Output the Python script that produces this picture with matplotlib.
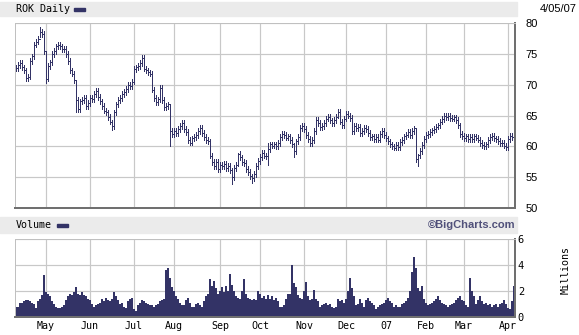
import numpy as np
import matplotlib.pyplot as plt
from matplotlib.patches import Rectangle

# daily closing prices, ROK, one per trading day (Apr 2006 - Apr 5 2007)
closes = [
    72.7, 73.2, 73.5, 72.8, 72.3, 71.1, 71.3, 73.8, 74.6, 76.5,
    77.0, 77.4, 78.5, 78.2, 75.5, 71.0, 73.0, 73.6, 75.0, 75.5,
    76.2, 76.5, 76.2, 75.8, 75.8, 75.0, 73.8, 72.3, 71.8, 70.8,
    67.5, 66.0, 67.3, 67.5, 67.8, 66.5, 67.0, 67.9, 67.6, 68.5,
    69.0, 68.0, 67.3, 66.5, 65.8, 65.5, 64.8, 64.0, 63.3, 65.5,
    66.8, 67.5, 67.8, 68.5, 68.8, 69.3, 70.0, 69.8, 70.5, 72.5,
    72.8, 73.0, 73.5, 74.3, 72.6, 72.3, 72.0, 71.8, 69.2, 67.8,
    67.2, 67.6, 69.5, 67.5, 66.3, 66.5, 66.8, 62.5, 62.0, 62.5,
    62.2, 62.8, 63.3, 63.8, 62.8, 62.3, 61.0, 60.6, 61.3, 61.5,
    61.8, 62.5, 63.0, 62.2, 61.5, 61.0, 60.8, 58.5, 57.5, 56.8,
    57.5, 56.3, 57.0, 56.8, 57.2, 56.5, 56.8, 56.2, 55.0, 56.5,
    57.0, 58.8, 58.2, 57.5, 57.3, 56.3, 55.8, 55.2, 54.8, 55.5,
    56.8, 57.6, 58.3, 59.0, 58.5, 58.4, 59.5, 60.3, 60.1, 60.3,
    60.0, 60.5, 61.5, 62.0, 61.8, 61.4, 61.6, 61.0, 60.4, 59.2,
    60.8, 61.5, 63.0, 63.3, 62.8, 61.8, 61.2, 60.5, 61.0, 62.5,
    64.3, 63.8, 63.1, 63.3, 63.8, 64.5, 64.8, 64.2, 63.8, 64.3,
    64.8, 65.6, 64.0, 63.5, 64.5, 65.3, 65.0, 64.6, 62.5, 63.3,
    63.0, 63.2, 62.2, 62.5, 63.0, 62.8, 62.2, 61.5, 61.6, 61.2,
    61.5, 61.1, 62.0, 62.5, 61.8, 61.3, 60.8, 60.3, 60.0, 59.8,
    60.2, 59.9, 60.7, 61.0, 61.6, 61.9, 62.3, 61.8, 62.5, 62.9,
    58.0, 58.6, 59.2, 60.2, 61.2, 61.8, 62.0, 62.3, 62.6, 62.8,
    63.2, 63.4, 64.0, 64.4, 64.9, 64.7, 64.9, 64.6, 64.5, 64.7,
    64.3, 63.4, 62.0, 61.7, 61.3, 61.6, 61.2, 61.5, 61.2, 61.6,
    61.4, 61.1, 60.5, 60.2, 60.0, 60.3, 61.0, 61.5, 61.7, 61.3,
    61.2, 60.9, 60.5, 60.6, 60.1, 59.9, 61.2, 61.7, 61.5, 58.0,
]

# (day index, high, low) for the bars with long tails
wide_bars = [
    (12, 79.3, 77.8), (15, 75.5, 70.3), (30, 70.8, 65.5), (48, 64.2, 62.7),
    (77, 66.8, 60.0), (108, 56.5, 53.9), (111, 59.0, 56.8), (118, 55.5, 54.0),
    (126, 60.5, 57.0), (139, 60.5, 58.3), (161, 66.1, 64.6), (200, 62.9, 57.5),
    (201, 58.8, 56.8), (249, 61.5, 57.7),
]

# daily volume, millions of shares
volume = [
    0.8, 0.8, 1.1, 1.1, 1.2, 1.3, 1.3, 1.2, 1.1, 1.0,
    0.7, 1.2, 1.4, 1.7, 3.2, 1.9, 1.8, 1.6, 1.2, 1.0,
    0.8, 0.7, 0.7, 0.8, 0.9, 1.3, 1.6, 1.8, 1.7, 1.9,
    2.3, 1.8, 1.7, 1.9, 1.7, 1.6, 1.4, 1.3, 1.0, 0.8,
    0.9, 1.0, 1.1, 1.4, 1.2, 1.5, 1.3, 1.2, 1.4, 1.9,
    1.6, 1.3, 1.0, 1.1, 0.8, 0.7, 1.2, 1.4, 1.5, 0.6,
    0.5, 0.9, 1.1, 1.3, 1.2, 1.1, 1.0, 0.9, 0.9, 0.8,
    0.9, 1.0, 1.2, 1.3, 1.4, 3.6, 3.8, 3.0, 2.3, 2.0,
    1.6, 1.4, 1.1, 0.9, 0.9, 1.3, 1.5, 1.1, 0.8, 0.8,
    1.0, 1.1, 0.9, 0.8, 1.2, 1.6, 1.8, 2.9, 2.4, 2.8,
    2.2, 1.8, 2.0, 2.3, 1.9, 2.4, 2.0, 3.3, 2.5, 2.0,
    1.6, 1.5, 1.4, 2.0, 2.9, 1.8, 1.5, 1.4, 1.3, 1.4,
    1.3, 2.0, 1.8, 1.5, 1.6, 1.4, 1.7, 1.4, 1.6, 1.3,
    1.5, 1.2, 0.8, 0.8, 0.9, 1.4, 1.8, 1.8, 4.0, 2.6,
    2.3, 1.7, 1.5, 1.4, 2.0, 2.7, 1.6, 1.3, 1.4, 2.1,
    1.4, 1.2, 0.8, 0.9, 1.0, 1.1, 0.9, 1.0, 0.8, 0.7,
    0.8, 1.4, 1.2, 1.3, 1.1, 1.4, 2.0, 3.0, 2.2, 1.6,
    0.9, 1.0, 1.4, 1.1, 0.8, 1.3, 1.5, 1.2, 1.1, 0.9,
    0.6, 0.8, 0.9, 1.0, 1.1, 1.3, 1.5, 1.2, 1.1, 0.8,
    0.9, 0.8, 0.8, 1.0, 1.1, 1.2, 1.5, 2.0, 3.5, 4.6,
    3.8, 2.2, 2.0, 2.4, 1.4, 1.1, 0.9, 1.0, 1.1, 1.2,
    1.4, 1.6, 1.3, 1.1, 1.0, 0.9, 0.8, 0.9, 1.0, 1.1,
    1.3, 1.5, 1.6, 1.3, 1.2, 0.9, 0.8, 3.0, 2.0, 1.6,
    1.0, 1.3, 1.6, 1.2, 1.0, 1.1, 0.9, 1.0, 0.8, 0.9,
    1.0, 0.8, 1.0, 1.1, 1.3, 1.0, 0.7, 0.6, 1.2, 2.4,
]

month_pos = [15, 37, 59, 79, 102, 122, 144, 165, 185, 205, 224, 246]
month_labels = ["May", "Jun", "Jul", "Aug", "Sep", "Oct", "Nov", "Dec", "07", "Feb", "Mar", "Apr"]
price_ticks = [50, 55, 60, 65, 70, 75, 80]
volume_ticks = [0, 2, 4, 6]

NAVY = "#333366"
GRID = "#c8c8c8"
BAND = "#ebebeb"
W, H = 579, 335
PX = 0.72  # one pixel in points at dpi 100


def box(l, t, r, b):
    return [l / W, 1 - b / H, (r - l) / W, (b - t) / H]


def frame(ax):
    for side in ["left", "top"]:
        ax.spines[side].set_color("#c0c0c0")
        ax.spines[side].set_linewidth(PX)
    for side in ["right", "bottom"]:
        ax.spines[side].set_color("#707070")
        ax.spines[side].set_linewidth(2 * PX)
    ax.grid(True, color=GRID, linewidth=1.2 * PX)
    ax.set_axisbelow(True)
    ax.tick_params(length=0)


c = np.array(closes)
idx = np.arange(len(c))
o = np.r_[c[0], c[:-1]]
hi = np.maximum(o, c) + 0.45
lo = np.minimum(o, c) - 0.45
for i, h, l in wide_bars:
    hi[i], lo[i] = h, l

fig = plt.figure(figsize=(W / 100, H / 100), dpi=100)

# header strips
for t, b in [(2, 16), (217, 233)]:
    fig.patches.append(Rectangle((0, 1 - b / H), 517 / W, (b - t) / H,
                                 transform=fig.transFigure, color=BAND, zorder=0))
mono = dict(family="DejaVu Sans Mono", size=7.2, color="black")
fig.text(16 / W, 1 - 9.5 / H, "ROK Daily", va="center", **mono)
fig.patches.append(Rectangle((74 / W, 1 - 11 / H), 11 / W, 3 / H,
                             transform=fig.transFigure, color=NAVY))
fig.text(16 / W, 1 - 225.5 / H, "Volume", va="center", **mono)
fig.patches.append(Rectangle((57 / W, 1 - 227 / H), 11 / W, 3 / H,
                             transform=fig.transFigure, color=NAVY))
fig.text(515 / W, 1 - 225.5 / H, "\u00a9BigCharts.com", ha="right", va="center",
         family="Liberation Sans", weight="bold", size=8, color="#50507a")
fig.text(577 / W, 1 - 9.5 / H, "4/05/07", ha="right", va="center",
         family="Liberation Sans", size=8)

# price panel
ax1 = fig.add_axes(box(15, 23, 515, 208))
frame(ax1)
bar_style = dict(color=NAVY, linewidth=PX, antialiased=False)
ax1.vlines(idx, lo, hi, **bar_style)
ax1.hlines(o, idx - 0.75, idx, **bar_style)
ax1.hlines(c, idx, idx + 0.75, **bar_style)
ax1.set_xlim(-0.5, len(c) - 0.5)
ax1.set_ylim(50, 80)
ax1.set_xticks(month_pos)
ax1.set_xticklabels([])
ax1.set_yticks(price_ticks)
ax1.yaxis.tick_right()
ax1.tick_params(axis="y", pad=7.5)
for lab in ax1.get_yticklabels():
    lab.set_family("Liberation Sans")
    lab.set_fontsize(8)

# volume panel
ax2 = fig.add_axes(box(15, 239, 515, 317))
frame(ax2)
ax2.fill_between(idx, volume, step="mid", color=NAVY, linewidth=0)
ax2.set_xlim(-0.5, len(c) - 0.5)
ax2.set_ylim(0, 6)
ax2.set_xticks(month_pos)
ax2.set_xticklabels(month_labels, **mono)
ax2.tick_params(axis="x", pad=3)
ax2.set_yticks(volume_ticks)
ax2.yaxis.tick_right()
ax2.tick_params(axis="y", pad=2)
for lab in ax2.get_yticklabels():
    lab.set_family("DejaVu Sans Mono")
    lab.set_fontsize(7.5)
fig.text(566 / W, 1 - 270 / H, "Millions", rotation=90, ha="center", va="center", **mono)

fig.savefig("out.png", dpi=100)
